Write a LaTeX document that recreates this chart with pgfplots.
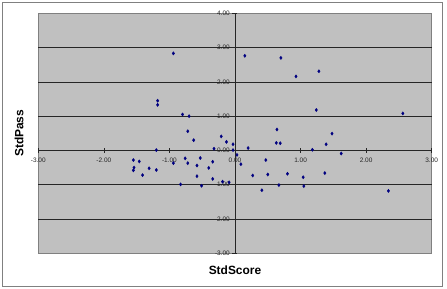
\documentclass[border=0pt]{standalone}
\usepackage{pgfplots}
\pgfplotsset{compat=1.18}
\usepackage{fontspec}
\setmainfont{Liberation Sans}
\definecolor{plotbg}{HTML}{C0C0C0}
\definecolor{navy}{HTML}{000080}
\definecolor{framegray}{HTML}{808080}
\begin{document}
\begin{tikzpicture}
\useasboundingbox (0,0) rectangle (447bp,289bp);
\draw[framegray, line width=0.9bp] (2.7bp,3bp) rectangle (442.7bp,286.3bp);
\begin{axis}[
  at={(38.3bp,35.7bp)}, anchor=south west,
  scale only axis, width=393.4bp, height=240bp,
  xmin=-3, xmax=3, ymin=-3, ymax=4,
  axis line style={framegray, line width=0.7bp},
  axis background/.style={fill=plotbg},
  xtick={-3,-2,...,3}, ytick={-3,-2,...,4},
  major tick length=0pt,
  extra x ticks={0}, extra x tick labels={},
  extra x tick style={grid=major, major grid style={black!85, line width=0.8bp}},
  extra y ticks={-2,-1,...,3}, extra y tick labels={},
  extra y tick style={grid=major, major grid style={black!85, line width=0.7bp}},
  /pgf/number format/assume math mode=true,
  /pgf/number format/fixed, /pgf/number format/fixed zerofill, /pgf/number format/precision=2,
  ticklabel style={font=\fontsize{6.5}{7}\selectfont, inner sep=0pt, text=black!85},
  xticklabel style={anchor=center, yshift=93.4bp},
  yticklabel style={anchor=east, xshift=191.7bp},
  every axis x label/.style={at={(axis description cs:0.5,0)}, anchor=center, yshift=-16.7bp, font=\fontsize{12}{14}\selectfont\bfseries},
  every axis y label/.style={at={(axis description cs:0,0.5)}, rotate=90, anchor=center, yshift=19.3bp, font=\fontsize{12}{14}\selectfont\bfseries},
  xlabel={StdScore}, ylabel={StdPass},
  clip=false,
]
\pgfplotsinvokeforeach{-3,-2,...,4}{
  \draw[black!85, line width=0.6bp] ([xshift=-2.5bp]axis cs:0,#1) -- ([xshift=2.5bp]axis cs:0,#1);
}
\pgfplotsinvokeforeach{-3,-2,...,3}{
  \draw[black!85, line width=0.6bp] ([yshift=-2.5bp]axis cs:#1,0) -- ([yshift=2.5bp]axis cs:#1,0);
}
\addplot[only marks, mark=diamond*, mark size=1.6bp, color=navy] coordinates {
(-0.94,2.83) (0.15,2.76) (0.70,2.70) (1.28,2.31) (0.93,2.16)
(-1.18,1.45) (-1.18,1.33) (1.24,1.18) (2.56,1.08) (-0.80,1.05)
(-0.70,1.00) (-0.72,0.56) (0.64,0.61) (1.48,0.49) (-0.63,0.30)
(-0.21,0.41) (-0.13,0.25) (-0.03,0.18) (0.63,0.22) (0.69,0.21)
(1.39,0.18) (0.20,0.07) (-0.32,0.05) (-1.20,0.01) (-0.03,0.01)
(1.18,0.02) (1.62,-0.09) (0.03,-0.13) (-1.55,-0.28) (-1.46,-0.32)
(-0.76,-0.23) (-0.53,-0.22) (-0.34,-0.33) (-0.94,-0.37) (-0.72,-0.37)
(0.09,-0.40) (0.47,-0.28) (-0.58,-0.44) (-1.54,-0.50) (-1.55,-0.58)
(-1.31,-0.52) (-1.20,-0.57) (-0.40,-0.51) (-1.41,-0.72) (-0.58,-0.75)
(0.27,-0.73) (0.50,-0.70) (0.80,-0.68) (1.37,-0.66) (1.04,-0.78)
(-0.34,-0.83) (-0.19,-0.91) (-0.09,-0.93) (-0.83,-0.99) (-0.51,-1.03)
(0.67,-1.01) (1.05,-1.04) (0.41,-1.16) (2.34,-1.18)
};
\end{axis}
\end{tikzpicture}
\end{document}
